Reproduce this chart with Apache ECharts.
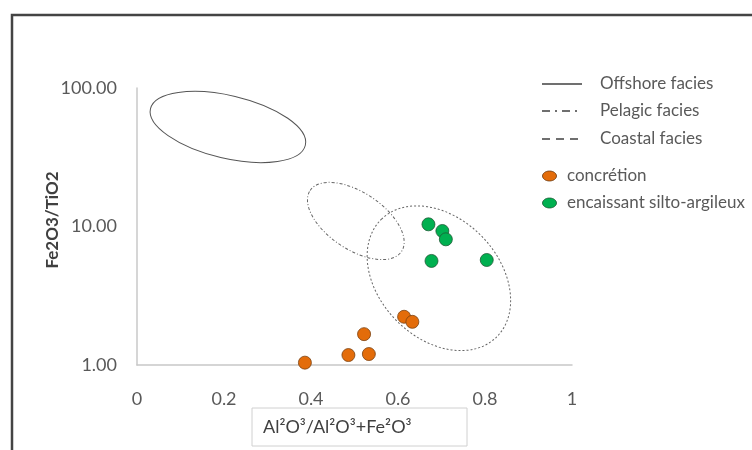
<!DOCTYPE html>
<html>
<head>
<meta charset="utf-8">
<script src="https://cdn.jsdelivr.net/npm/echarts@6/dist/echarts.min.js"></script>
<style>
html,body{margin:0;padding:0;background:#fff;}
#chart{width:752px;height:450px;}
</style>
</head>
<body>
<div id="chart"></div>
<script>
// ---- data ----
const xTickLabels = ['0', '0.2', '0.4', '0.6', '0.8', '1'];
const yTickLabels = ['1.00', '10.00', '100.00'];

const concretionX = [0.614, 0.633, 0.522, 0.486, 0.533, 0.386];
const concretionY = [2.23, 2.05, 1.67, 1.18, 1.20, 1.04];

const encaissantX = [0.670, 0.702, 0.710, 0.677, 0.804];
const encaissantY = [10.37, 9.28, 8.08, 5.64, 5.73];

// ellipse: centre [x,y], end of major semi-axis [x,y], end of minor semi-axis [x,y]
const offshoreEllipse = [0.209, 52.3, 0.387, 38.6, 0.226, 86.9];
const pelagicEllipse  = [0.503, 10.96, 0.608, 6.60, 0.539, 16.28];
const coastalEllipse  = [0.694, 4.23, 0.826, 1.585, 0.793, 8.47];

const seriesNames = ['Offshore facies', 'Pelagic facies', 'Coastal facies', 'concrétion', 'encaissant silto-argileux'];
const xTitle = 'Al²O³/Al²O³+Fe²O³';
const yTitle = 'Fe2O3/TiO2';

// ---- build ----
const FONT = 'Lato, "Open Sans", sans-serif';
const TXT = '#595959';
const ORANGE = '#E36C0A';
const GREEN = '#00B050';

function zip(xs, ys) { return xs.map((x, i) => [x, ys[i]]); }

function ellipseSeries(name, vals, dash, color) {
  return {
    name: name,
    type: 'custom',
    silent: true,
    clip: false,
    z: 2,
    data: [vals],
    encode: { x: 0, y: 1 },
    renderItem: function (params, api) {
      const c = api.coord([api.value(0), api.value(1)]);
      const m = api.coord([api.value(2), api.value(3)]);
      const n = api.coord([api.value(4), api.value(5)]);
      const rx = Math.hypot(m[0] - c[0], m[1] - c[1]);
      const ry = Math.hypot(n[0] - c[0], n[1] - c[1]);
      const ang = Math.atan2(m[1] - c[1], m[0] - c[0]);
      return {
        type: 'ellipse',
        shape: { cx: c[0], cy: c[1], rx: rx, ry: ry },
        rotation: -ang,
        originX: c[0],
        originY: c[1],
        style: { fill: 'none', stroke: color, lineWidth: 1, lineDash: dash }
      };
    }
  };
}

const chart = echarts.init(document.getElementById('chart'), null, { renderer: 'canvas' });

const LFONT = '17px ' + FONT;
const legendX = 542, legendTextX = 600;
const legendGraphics = [
  { type: 'line', shape: { x1: legendX, y1: 84, x2: legendX + 40, y2: 84 }, style: { stroke: '#404040', lineWidth: 1.5 } },
  { type: 'text', x: legendTextX, y: 84, style: { text: seriesNames[0], fill: TXT, font: LFONT, verticalAlign: 'middle' } },
  { type: 'line', shape: { x1: legendX, y1: 111, x2: legendX + 40, y2: 111 }, style: { stroke: '#404040', lineWidth: 1.5, lineDash: [8, 5, 2, 5] } },
  { type: 'text', x: legendTextX, y: 111, style: { text: seriesNames[1], fill: TXT, font: LFONT, verticalAlign: 'middle' } },
  { type: 'line', shape: { x1: legendX, y1: 139, x2: legendX + 40, y2: 139 }, style: { stroke: '#404040', lineWidth: 1.5, lineDash: [8, 6] } },
  { type: 'text', x: legendTextX, y: 139, style: { text: seriesNames[2], fill: TXT, font: LFONT, verticalAlign: 'middle' } },
  { type: 'ellipse', shape: { cx: 549.5, cy: 176, rx: 7, ry: 5 }, style: { fill: ORANGE, stroke: '#6b3a10', lineWidth: 0.8 } },
  { type: 'text', x: 567, y: 176, style: { text: seriesNames[3], fill: TXT, font: LFONT, verticalAlign: 'middle' } },
  { type: 'ellipse', shape: { cx: 549.5, cy: 203, rx: 7, ry: 5 }, style: { fill: GREEN, stroke: '#1d5b35', lineWidth: 0.8 } },
  { type: 'text', x: 567, y: 203, style: { text: seriesNames[4], fill: TXT, font: LFONT, verticalAlign: 'middle' } }
];

const option = {
  animation: false,
  backgroundColor: '#ffffff',
  grid: { left: 137, right: 180, top: 88, bottom: 85, containLabel: false },
  xAxis: {
    type: 'value',
    min: 0, max: 1, interval: 0.2,
    axisLine: { show: true, onZero: false, lineStyle: { color: '#c8c8c8', width: 1.5 } },
    axisTick: { show: false },
    splitLine: { show: false },
    axisLabel: {
      margin: 25, color: TXT, fontSize: 18, fontFamily: FONT,
      formatter: function (v) { return xTickLabels[Math.round(v / 0.2)]; }
    }
  },
  yAxis: {
    type: 'log',
    logBase: 10,
    min: 1, max: 100,
    axisLine: { show: true, lineStyle: { color: '#c8c8c8', width: 1.5 } },
    axisTick: { show: false },
    splitLine: { show: false },
    axisLabel: {
      margin: 20, color: TXT, fontSize: 18, fontFamily: FONT,
      formatter: function (v) { return yTickLabels[Math.round(Math.log10(v))]; }
    }
  },
  graphic: [
    { type: 'rect', shape: { x: 12, y: 15, width: 800, height: 500 }, style: { fill: 'none', stroke: '#444', lineWidth: 2.5 }, silent: true, z: 0 },
    { type: 'text', x: 53, y: 220, rotation: Math.PI / 2, style: { text: yTitle, fill: '#404040', font: 'bold 17px ' + FONT, align: 'center', verticalAlign: 'middle' }, silent: true },
    { type: 'rect', shape: { x: 252, y: 408, width: 215, height: 38 }, style: { fill: '#fff', stroke: '#d0d0d0', lineWidth: 1 }, silent: true },
    { type: 'text', x: 263, y: 427, style: { text: xTitle, fill: '#404040', font: '18px ' + FONT, verticalAlign: 'middle' }, silent: true }
  ].concat(legendGraphics),
  series: [
    ellipseSeries(seriesNames[0], offshoreEllipse, null, '#555555'),
    ellipseSeries(seriesNames[1], pelagicEllipse, [3, 2, 1, 2], '#666666'),
    ellipseSeries(seriesNames[2], coastalEllipse, [2, 2], '#666666'),
    {
      name: seriesNames[3], type: 'scatter', z: 3,
      symbol: 'circle', symbolSize: 13,
      itemStyle: { color: ORANGE, borderColor: '#7a4112', borderWidth: 0.8, opacity: 1 },
      data: zip(concretionX, concretionY)
    },
    {
      name: seriesNames[4], type: 'scatter', z: 3,
      symbol: 'circle', symbolSize: 13,
      itemStyle: { color: GREEN, borderColor: '#1d5b35', borderWidth: 0.8, opacity: 1 },
      data: zip(encaissantX, encaissantY)
    }
  ]
};

chart.setOption(option);
</script>
</body>
</html>
